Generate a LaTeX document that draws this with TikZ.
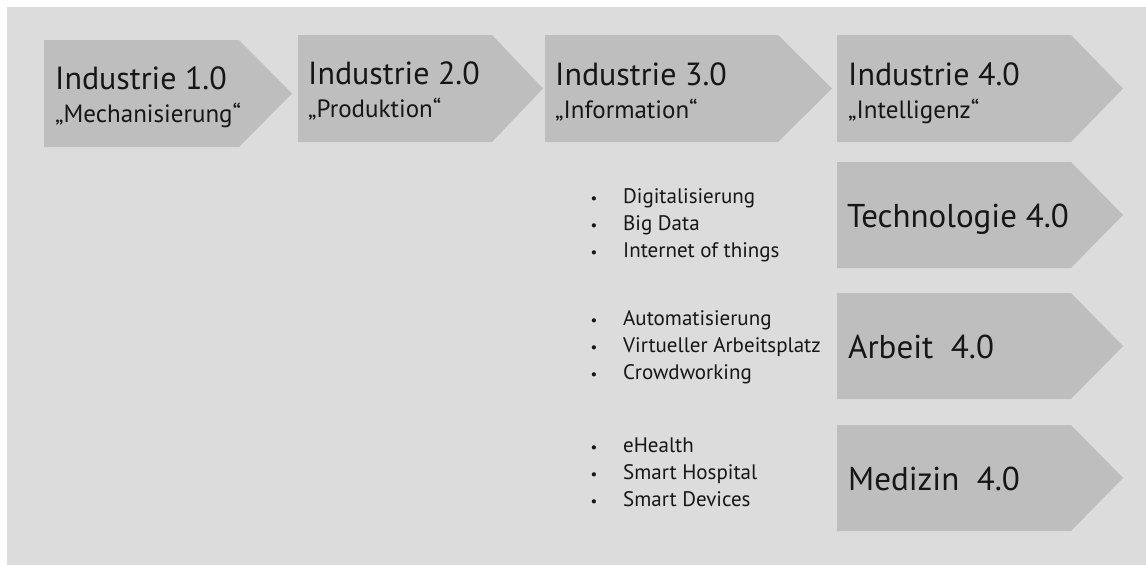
\documentclass[tikz,border=0pt]{standalone}
\usepackage{fontspec}
\setmainfont{PT Sans}
\definecolor{bgc}{HTML}{DCDCDC}
\definecolor{arrc}{HTML}{BEBEBE}
\definecolor{txt}{HTML}{161616}
\begin{document}
\begin{tikzpicture}[x=1pt,y=-1pt,
  bgbox/.style={fill=bgc},
  arrowbox/.style={fill=arrc},
  ttl/.style={anchor=base west, inner sep=0pt, text=txt, font=\fontsize{32}{36}\selectfont},
  subttl/.style={anchor=base west, inner sep=0pt, text=txt, font=\fontsize{25}{30}\selectfont},
  biglbl/.style={anchor=base west, inner sep=0pt, text=txt, font=\fontsize{33}{40}\selectfont},
  item/.style={anchor=base west, inner sep=0pt, text=txt, font=\fontsize{21}{24}\selectfont},
  bullet/.style={anchor=base, inner sep=0pt, text=txt, font=\fontsize{15}{24}\selectfont}]
\useasboundingbox (0,0) rectangle (1146,565);
\fill[white] (0,0) rectangle (1146,565);
\fill[bgbox] (7,7) rectangle (1146,565);
% top row arrows
\fill[arrowbox] (44,40) -- (239,40) -- (292,93.5) -- (239,147) -- (44,147) -- cycle;
\fill[arrowbox] (298,35) -- (492,35) -- (543,88.5) -- (492,142) -- (298,142) -- cycle;
\fill[arrowbox] (545,35) -- (778,35) -- (832,88.5) -- (778,142) -- (545,142) -- cycle;
\fill[arrowbox] (837,35) -- (1071,35) -- (1123,88.5) -- (1071,142) -- (837,142) -- cycle;
% right column arrows
\fill[arrowbox] (837,162) -- (1071,162) -- (1123,215) -- (1071,268) -- (837,268) -- cycle;
\fill[arrowbox] (837,293) -- (1071,293) -- (1123,346) -- (1071,399) -- (837,399) -- cycle;
\fill[arrowbox] (837,425) -- (1071,425) -- (1123,478) -- (1071,531) -- (837,531) -- cycle;
% titles
\node[ttl] (i1) at (55,89) {Industrie 1.0};
\node[subttl] (s1) at (55,122) {„Mechanisierung“};
\node[ttl] (i2) at (308,84) {Industrie 2.0};
\node[subttl] (s2) at (308,117) {„Produktion“};
\node[ttl] (i3) at (555,85) {Industrie 3.0};
\node[subttl] (s3) at (555,118) {„Information“};
\node[ttl] (i4) at (848,85) {Industrie 4.0};
\node[subttl] (s4) at (848,118) {„Intelligenz“};
% big labels
\node[biglbl] (tech) at (847,227) {Technologie 4.0};
\node[biglbl] (arb) at (848,358) {Arbeit\ \ 4.0};
\node[biglbl] (med) at (848,490) {Medizin\ \ 4.0};
% lists
\foreach \y/\t [count=\k] in {203/Digitalisierung, 230/Big Data, 257/Internet of things,
  325/Automatisierung, 352/Virtueller Arbeitsplatz, 379/Crowdworking,
  452/eHealth, 479/Smart Hospital, 506/Smart Devices} {
  \node[bullet] (b\k) at (594,\y) {•};
  \node[item] (l\k) at (623,\y) {\t};
}
\end{tikzpicture}
\end{document}
